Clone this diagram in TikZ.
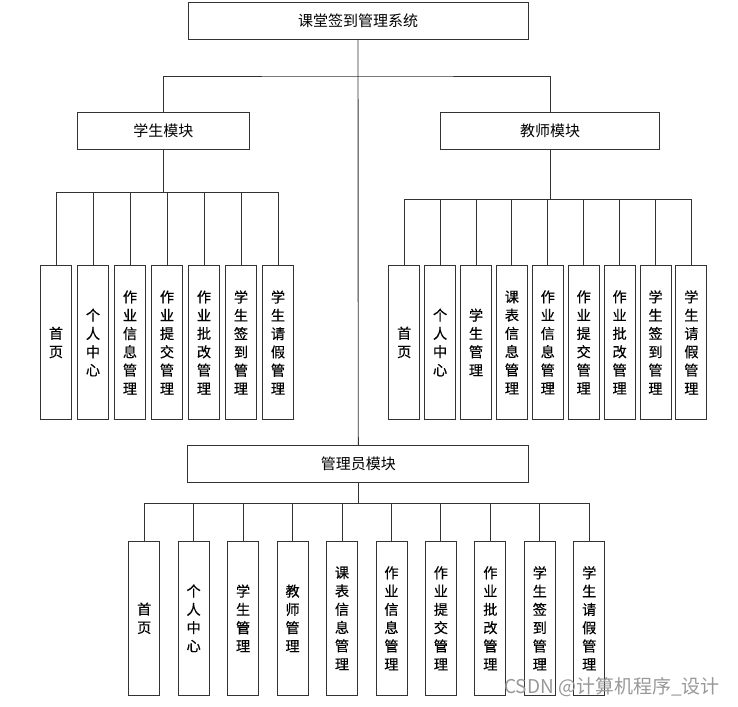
\documentclass[tikz,border=0pt]{standalone}
\usepackage{fontspec}
\newfontfamily\cjk{Noto Sans CJK SC}
\newfontfamily\cjkb[FakeBold=0.35]{Noto Sans CJK SC}
\begin{document}
\begin{tikzpicture}[x=1pt,y=-1pt,
  box/.style={draw=black!80, line width=0.9pt, inner sep=0pt, fill=white},
  hbox/.style={box, minimum height=36.6pt, font=\cjk\fontsize{15}{16}\selectfont},
  vbox/.style={box, minimum width=31pt, minimum height=153.5pt, align=center,
    font=\cjkb\fontsize{14.2}{18.3}\selectfont},
  link/.style={draw=black!80, line width=0.9pt}]
\fill[white] (0,0) rectangle (738,706);
\useasboundingbox (0,0) rectangle (738,706);

% main boxes
\node[hbox, minimum width=340pt] (top) at (358,21) {课堂签到管理系统};
\node[hbox, minimum width=171.5pt] (stu) at (163.3,131) {学生模块};
\node[hbox, minimum width=219.4pt] (tea) at (550,131) {教师模块};
\node[hbox, minimum width=341pt] (adm) at (358.3,464) {管理员模块};

\coordinate (h1) at (358.3,76);
\coordinate (sb) at (163.3,192.3);
\coordinate (tb) at (550,199);
\coordinate (ab) at (358.3,503.3);

% top-level connectors
\draw[link] (top.south) -- (adm.north);
\draw[link] (stu.north) |- (h1) -| (tea.north);

% student children
\foreach \t [count=\i from 0] in {{首\\页},{个\\人\\中\\心},{作\\业\\信\\息\\管\\理},{作\\业\\提\\交\\管\\理},{作\\业\\批\\改\\管\\理},{学\\生\\签\\到\\管\\理},{学\\生\\请\\假\\管\\理}}{
  \node[vbox] (s\i) at ({56+37*\i},342.5) {\t};
  \draw[link] (stu.south) -- (sb) -| (s\i.north);
}

% teacher children
\foreach \t [count=\i from 0] in {{首\\页},{个\\人\\中\\心},{学\\生\\管\\理},{课\\表\\信\\息\\管\\理},{作\\业\\信\\息\\管\\理},{作\\业\\提\\交\\管\\理},{作\\业\\批\\改\\管\\理},{学\\生\\签\\到\\管\\理},{学\\生\\请\\假\\管\\理}}{
  \node[vbox] (t\i) at ({404.2+35.9*\i},342.4) {\t};
  \draw[link] (tea.south) -- (tb) -| (t\i.north);
}

% admin children
\foreach \t [count=\i from 0] in {{首\\页},{个\\人\\中\\心},{学\\生\\管\\理},{教\\师\\管\\理},{课\\表\\信\\息\\管\\理},{作\\业\\信\\息\\管\\理},{作\\业\\提\\交\\管\\理},{作\\业\\批\\改\\管\\理},{学\\生\\签\\到\\管\\理},{学\\生\\请\\假\\管\\理}}{
  \node[vbox] (a\i) at ({144.2+49.45*\i},618.3) {\t};
  \draw[link] (adm.south) -- (ab) -| (a\i.north);
}

% watermark
\node[text=black!40, font=\cjk\fontsize{19}{21}\selectfont, inner sep=0pt] (wm) at (612,687) {CSDN @计算机程序\_设计};
\end{tikzpicture}
\end{document}
